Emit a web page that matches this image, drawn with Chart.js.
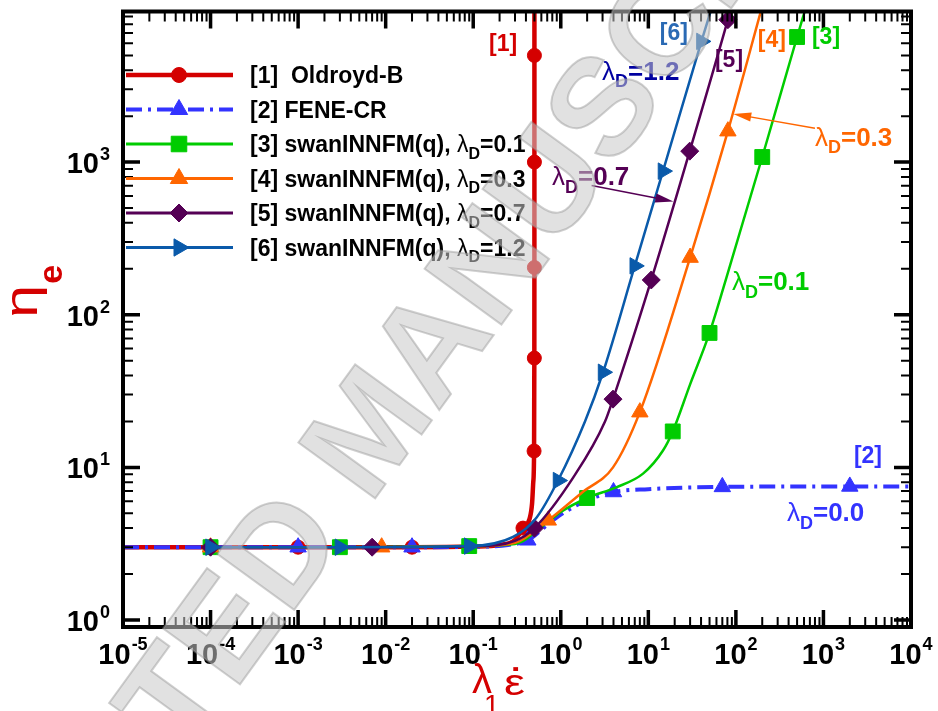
<!DOCTYPE html>
<html>
<head>
<meta charset="utf-8">
<script src="https://cdn.jsdelivr.net/npm/chart.js@4.4.1/dist/chart.umd.min.js"></script>
<style>
  html, body { margin: 0; padding: 0; background: #fff; }
  #wrap { width: 938px; height: 711px; }
</style>
</head>
<body>
<div id="wrap"><canvas id="etaChart" width="938" height="711"></canvas></div>
<script>
// values (log-log axes)
const xTickExps = [-5, -4, -3, -2, -1, 0, 1, 2, 3, 4];
const yTickExps = [0, 1, 2, 3];

// [1] Oldroyd-B
const oldroydX = [1e-5, 1e-3, 0.02, 0.1, 0.2, 0.3, 0.37, 0.44, 0.47, 0.485, 0.4955, 0.4988, 0.4997, 0.49994, 0.49999, 0.499999];
const oldroydY = [3, 3, 3, 3.03, 3.1, 3.35, 4.0, 4.6, 5.8, 8, 12.8, 52, 204, 1000, 5000, 20000];
const oldroydMark = [0, 1, 1, 0, 0, 0, 1, 0, 0, 0, 1, 1, 1, 1, 1, 0];

// [2] FENE-CR
const feneX = [1e-5, 1e-3, 0.02, 0.1, 0.25, 0.42, 0.7, 1, 2, 4, 10, 70, 2000, 1e4];
const feneY = [3, 3, 3, 3.02, 3.1, 3.33, 4.2, 4.9, 6.1, 6.9, 7.2, 7.45, 7.5, 7.5];
const feneMark = [0, 1, 1, 0, 0, 1, 0, 0, 0, 1, 0, 1, 1, 0];

// [3] swanINNFM(q), lambda_D = 0.1
const q01X = [1e-4, 3e-3, 0.09, 0.3, 0.68, 1, 2, 4.3, 8.7, 14.7, 19, 30, 50, 78, 200, 500, 620];
const q01Y = [3, 3, 3.05, 3.15, 4.3, 5.1, 6.3, 7.4, 9.1, 12.9, 17.2, 35, 76, 175, 1080, 6600, 10000];
const q01Mark = [1, 1, 1, 0, 0, 0, 1, 0, 0, 0, 1, 0, 1, 0, 1, 1, 0];

// [4] swanINNFM(q), lambda_D = 0.3
const q03X = [1e-4, 0.009, 0.1, 0.3, 0.72, 1.78, 3.95, 8, 30, 81, 200];
const q03Y = [3, 3, 3.03, 3.2, 4.5, 6.9, 10, 23, 237, 1595, 10500];
const q03Mark = [1, 1, 0, 0, 1, 0, 0, 1, 1, 1, 0];

// [5] swanINNFM(q), lambda_D = 0.7
const q07X = [1e-4, 0.007, 0.1, 0.3, 0.5, 1.39, 3.2, 3.95, 10.8, 29.7, 81, 95];
const q07Y = [3, 3, 3.04, 3.3, 4.0, 8.6, 20, 28, 169, 1180, 8570, 12000];
const q07Mark = [1, 1, 0, 0, 1, 0, 0, 1, 1, 1, 1, 0];

// [6] swanINNFM(q), lambda_D = 1.2
const q12X = [1e-4, 0.003, 0.09, 0.285, 0.53, 0.93, 1.89, 3.04, 7.0, 14.7, 40.4, 55];
const q12Y = [3, 3, 3.05, 3.5, 4.7, 8.2, 20, 42, 209, 873, 6180, 11000];
const q12Mark = [1, 1, 1, 0, 0, 1, 0, 1, 1, 1, 1, 0];

const FONT = "'Liberation Sans', Arial, sans-serif";
const RED = '#d40000', FENE = '#3333ff', GREEN = '#00cc00', ORANGE = '#ff6600', PURPLE = '#550055', BLUE6 = '#0a5aaa';

function pts(xs, ys) {
    return xs.map((x, i) => ({ x: x, y: ys[i] }));
}

function series(label, xs, ys, marks, color, style, r, width, order, extra) {
    return Object.assign({
        label: label,
        data: pts(xs, ys),
        borderColor: color,
        backgroundColor: color,
        borderWidth: width,
        pointStyle: style,
        pointRadius: marks.map(m => m ? r : 0),
        pointBorderWidth: 1,
        pointBorderColor: color,
        pointBackgroundColor: color,
        fill: false,
        order: order
    }, extra || {});
}

// text with subscripts: parts = [text, kind, font, shift]
function richText(ctx, parts, x, y, color) {
    ctx.fillStyle = color;
    ctx.textBaseline = 'alphabetic';
    ctx.textAlign = 'left';
    let cx = x;
    parts.forEach(p => {
        ctx.font = p[2];
        const dy = p[1] === 'sub' ? p[3] : 0;
        ctx.fillText(p[0], cx, y + dy);
        cx += ctx.measureText(p[0]).width;
    });
    return cx;
}

function lambdaParts(value, size) {
    return [
        ['\u03bb', 'n', size + 'px ' + FONT],
        ['D', 'sub', 'bold ' + Math.round(size * 0.68) + 'px ' + FONT, size * 0.3],
        ['=' + value, 'n', 'bold ' + size + 'px ' + FONT]
    ];
}

function drawMarker(ctx, style, rot, r, x, y, color) {
    ctx.fillStyle = color;
    ctx.strokeStyle = color;
    ctx.lineWidth = 1;
    if (Chart.helpers && Chart.helpers.drawPoint) {
        Chart.helpers.drawPoint(ctx, { pointStyle: style, rotation: rot, radius: r, borderWidth: 1 }, x, y);
        return;
    }
    ctx.beginPath();
    if (style === 'circle') ctx.arc(x, y, r, 0, Math.PI * 2);
    else if (style === 'rect') { const s = r * Math.SQRT1_2; ctx.rect(x - s, y - s, 2 * s, 2 * s); }
    else if (style === 'rectRot') { ctx.moveTo(x - r, y); ctx.lineTo(x, y - r); ctx.lineTo(x + r, y); ctx.lineTo(x, y + r); ctx.closePath(); }
    else {
        let a = rot * Math.PI / 180;
        for (let k = 0; k < 3; k++) {
            const px = x + Math.sin(a) * r, py = y - Math.cos(a) * r;
            k ? ctx.lineTo(px, py) : ctx.moveTo(px, py);
            a += 2 * Math.PI / 3;
        }
        ctx.closePath();
    }
    ctx.fill();
}

// frame, inward ticks on all four sides, and 10^n labels
const axisFrame = {
    id: 'axisFrame',
    afterDatasetsDraw(chart) {
        const { ctx, chartArea: a, scales: { x, y } } = chart;
        ctx.save();
        ctx.strokeStyle = '#000';
        ctx.lineCap = 'butt';
        const tick = (p, major, vertical) => {
            const len = major ? 17 : 10;
            ctx.lineWidth = major ? 3.5 : 2;
            ctx.beginPath();
            if (vertical) {
                ctx.moveTo(p, a.bottom); ctx.lineTo(p, a.bottom - len);
                ctx.moveTo(p, a.top); ctx.lineTo(p, a.top + len);
            } else {
                ctx.moveTo(a.left, p); ctx.lineTo(a.left + len, p);
                ctx.moveTo(a.right, p); ctx.lineTo(a.right - len, p);
            }
            ctx.stroke();
        };
        for (let e = -5; e < 4; e++) {
            for (let m = 2; m <= 9; m++) tick(x.getPixelForValue(m * Math.pow(10, e)), false, true);
        }
        xTickExps.forEach(e => tick(x.getPixelForValue(Math.pow(10, e)), true, true));
        for (let e = -1; e < 4; e++) {
            for (let m = 2; m <= 9; m++) {
                const v = m * Math.pow(10, e);
                if (v > y.min && v < y.max) tick(y.getPixelForValue(v), false, false);
            }
        }
        yTickExps.forEach(e => tick(y.getPixelForValue(Math.pow(10, e)), true, false));

        ctx.lineWidth = 4;
        ctx.strokeRect(a.left, a.top, a.right - a.left, a.bottom - a.top);

        // tick labels
        ctx.fillStyle = '#000';
        ctx.textBaseline = 'alphabetic';
        ctx.textAlign = 'left';
        const mainFont = 'bold 29px ' + FONT, supFont = 'bold 18px ' + FONT;
        xTickExps.forEach(e => {
            const px = x.getPixelForValue(Math.pow(10, e));
            ctx.font = mainFont; const wm = ctx.measureText('10').width;
            ctx.font = supFont; const ws = ctx.measureText(String(e)).width;
            const sx = px - (wm + 1 + ws) / 2;
            ctx.font = mainFont; ctx.fillText('10', sx, a.bottom + 37);
            ctx.font = supFont; ctx.fillText(String(e), sx + wm + 1, a.bottom + 23);
        });
        yTickExps.forEach(e => {
            const py = y.getPixelForValue(Math.pow(10, e));
            ctx.font = mainFont; const wm = ctx.measureText('10').width;
            ctx.fillText('10', 99 - wm, py + 11);
            ctx.font = supFont; ctx.fillText(String(e), 100, py - 2);
        });

        // axis titles
        ctx.fillStyle = RED;
        ctx.font = '40px ' + FONT;
        ctx.fillText('\u03bb', 472, 693);
        ctx.font = '28px ' + FONT;
        ctx.fillText('1', 484, 714);
        ctx.save();
        ctx.translate(504, 695);
        ctx.scale(1.3, 1);
        ctx.font = '36px ' + FONT;
        ctx.fillText('\u03b5', 0, 0);
        const epsW = ctx.measureText('\u03b5').width;
        ctx.textAlign = 'center';
        ctx.font = 'bold 26px ' + FONT;
        ctx.fillText('.', epsW / 2 + 1, -24);
        ctx.restore();

        ctx.save();
        ctx.translate(37, 318);
        ctx.rotate(-Math.PI / 2);
        ctx.save();
        ctx.scale(1.3, 1);
        ctx.font = '46px ' + FONT;
        ctx.fillText('\u03b7', 0, 0);
        const ew = ctx.measureText('\u03b7').width * 1.3;
        ctx.restore();
        ctx.font = 'bold 34px ' + FONT;
        ctx.fillText('e', ew + 1, 25);
        ctx.restore();
        ctx.restore();
    }
};

// curve labels, arrows and the legend block
const curveNotes = [
    { text: '[1]', x: 0.219, y: 5890, color: RED },
    { text: '[6]', x: 19.6, y: 6950, color: '#2a6ab4' },
    { text: '[5]', x: 83.4, y: 4620, color: PURPLE },
    { text: '[4]', x: 258, y: 6250, color: ORANGE },
    { text: '[3]', x: 1069, y: 6540, color: GREEN },
    { text: '[2]', x: 3222, y: 11.8, color: FENE }
];
const lambdaNotes = [
    { value: '1.2', x: 2.96, y: 3980, color: '#0000a0' },
    { value: '0.7', x: 0.794, y: 805, color: PURPLE },
    { value: '0.3', x: 800, y: 1471, color: ORANGE },
    { value: '0.1', x: 90.2, y: 165.5, color: GREEN },
    { value: '0.0', x: 383, y: 5.09, color: FENE }
];
const arrowNotes = [
    { x0: 2.25, y0: 703, x1: 19.3, y1: 552, color: PURPLE },
    { x0: 800, y0: 1667, x1: 93.3, y1: 2070, color: ORANGE }
];
const legendRows = [
    { parts: [['[1]  Oldroyd-B']], color: RED, style: 'circle', rot: 0, r: 7.5, width: 4.5 },
    { parts: [['[2] FENE-CR']], color: FENE, style: 'triangle', rot: 0, r: 10, width: 4, dash: [16, 6, 3, 6] },
    { parts: [['[3] swanINNFM(q), '], '0.1'], color: GREEN, style: 'rect', rot: 0, r: 11, width: 3 },
    { parts: [['[4] swanINNFM(q), '], '0.3'], color: ORANGE, style: 'triangle', rot: 0, r: 10, width: 3 },
    { parts: [['[5] swanINNFM(q), '], '0.7'], color: PURPLE, style: 'rectRot', rot: 0, r: 9, width: 3 },
    { parts: [['[6] swanINNFM(q), '], '1.2'], color: BLUE6, style: 'triangle', rot: 90, r: 10, width: 3 }
];

const notes = {
    id: 'notes',
    afterDatasetsDraw(chart) {
        const { ctx, scales: { x, y } } = chart;
        ctx.save();
        ctx.textBaseline = 'middle';
        ctx.textAlign = 'center';
        ctx.font = 'bold 23px ' + FONT;
        curveNotes.forEach(n => {
            ctx.fillStyle = n.color;
            ctx.fillText(n.text, x.getPixelForValue(n.x), y.getPixelForValue(n.y));
        });
        lambdaNotes.forEach(n => {
            richText(ctx, lambdaParts(n.value, 26), x.getPixelForValue(n.x), y.getPixelForValue(n.y) + 9, n.color);
        });
        arrowNotes.forEach(n => {
            const xa = x.getPixelForValue(n.x0), ya = y.getPixelForValue(n.y0);
            const xb = x.getPixelForValue(n.x1), yb = y.getPixelForValue(n.y1);
            const ang = Math.atan2(yb - ya, xb - xa);
            ctx.strokeStyle = n.color; ctx.fillStyle = n.color; ctx.lineWidth = 1.5;
            ctx.beginPath(); ctx.moveTo(xa, ya); ctx.lineTo(xb - 10 * Math.cos(ang), yb - 10 * Math.sin(ang)); ctx.stroke();
            ctx.beginPath();
            ctx.moveTo(xb, yb);
            ctx.lineTo(xb - 18 * Math.cos(ang) + 4.5 * Math.sin(ang), yb - 18 * Math.sin(ang) - 4.5 * Math.cos(ang));
            ctx.lineTo(xb - 18 * Math.cos(ang) - 4.5 * Math.sin(ang), yb - 18 * Math.sin(ang) + 4.5 * Math.cos(ang));
            ctx.closePath(); ctx.fill();
        });

        // legend
        legendRows.forEach((row, i) => {
            const ly = 75 + i * 34.5;
            ctx.save();
            ctx.strokeStyle = row.color; ctx.lineWidth = row.width;
            if (row.dash) ctx.setLineDash(row.dash);
            ctx.beginPath(); ctx.moveTo(126, ly); ctx.lineTo(233, ly); ctx.stroke();
            ctx.restore();
            drawMarker(ctx, row.style, row.rot, row.r, 179, ly, row.color);
            let lp = [[row.parts[0][0], 'n', 'bold 23px ' + FONT]];
            if (row.parts[1]) lp = lp.concat(lambdaParts(row.parts[1], 23));
            richText(ctx, lp, 250, ly + 8, '#000');
        });
        ctx.restore();
    }
};

// grey diagonal watermark seen over the figure
const WATERMARK = 'ACCEPTED MANUSCRIPT';
const watermark = {
    id: 'watermark',
    afterDraw(chart) {
        const ctx = chart.ctx;
        const size = 138;
        ctx.save();
        ctx.font = 'bold ' + size + 'px ' + FONT;
        const lead = ctx.measureText('ACCEPTE').width + ctx.measureText('D').width / 2;
        ctx.translate(278, 548);
        ctx.rotate(-54 * Math.PI / 180);
        ctx.textBaseline = 'alphabetic';
        ctx.textAlign = 'left';
        ctx.fillStyle = 'rgba(200,200,200,0.55)';
        ctx.fillText(WATERMARK, -lead, 0.716 * size / 2);
        ctx.lineWidth = 2;
        ctx.strokeStyle = 'rgba(150,150,150,0.45)';
        ctx.strokeText(WATERMARK, -lead, 0.716 * size / 2);
        ctx.restore();
    }
};

const etaCtx = document.getElementById('etaChart').getContext('2d');
const etaChart = new Chart(etaCtx, {
    type: 'line',
    data: {
        datasets: [
            series('[1] Oldroyd-B', oldroydX, oldroydY, oldroydMark, RED, 'circle', 7, 4.5, 6),
            series('[2] FENE-CR', feneX, feneY, feneMark, FENE, 'triangle', 9.5, 4, 5, { borderDash: [16, 6, 3, 6] }),
            series('[3] swanINNFM(q), \u03bbD=0.1', q01X, q01Y, q01Mark, GREEN, 'rect', 10.5, 2.5, 4),
            series('[4] swanINNFM(q), \u03bbD=0.3', q03X, q03Y, q03Mark, ORANGE, 'triangle', 9.5, 2.5, 3),
            series('[5] swanINNFM(q), \u03bbD=0.7', q07X, q07Y, q07Mark, PURPLE, 'rectRot', 9, 2.5, 2),
            series('[6] swanINNFM(q), \u03bbD=1.2', q12X, q12Y, q12Mark, BLUE6, 'triangle', 9.5, 2.5, 1, { pointRotation: 90 })
        ]
    },
    options: {
        responsive: false,
        animation: false,
        devicePixelRatio: 1,
        layout: { padding: { left: 123, right: 27, top: 11, bottom: 84 } },
        elements: { line: { cubicInterpolationMode: 'monotone' } },
        plugins: {
            legend: { display: false },
            tooltip: { enabled: false }
        },
        scales: {
            x: { type: 'logarithmic', min: 1e-5, max: 1e4, display: false },
            y: { type: 'logarithmic', min: 0.9, max: 9700, display: false }
        }
    },
    plugins: [axisFrame, notes, watermark]
});
</script>
</body>
</html>
